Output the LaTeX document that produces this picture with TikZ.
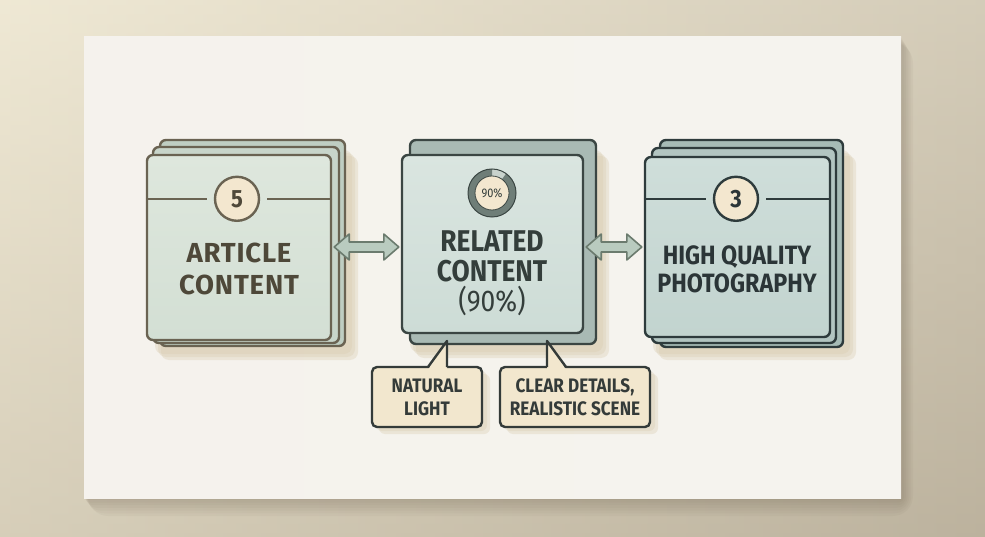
\documentclass[tikz,border=0pt]{standalone}
\usepackage{fontspec}
\setmainfont{Fira Sans}
\newfontfamily\condA[LetterSpace=3]{Fira Sans}
\newfontfamily\condB[FakeStretch=0.88]{Fira Sans}
\usetikzlibrary{calc}
\definecolor{wallTop}{HTML}{E9E2CF}
\definecolor{wallBot}{HTML}{B3A893}
\definecolor{wallLight}{HTML}{F4EED9}
\definecolor{wallDark}{HTML}{C4BBA7}
\definecolor{cardC}{HTML}{F5F3EE}
\definecolor{shadowC}{HTML}{6E6250}
\definecolor{boxShadow}{HTML}{D9CCB0}
\definecolor{bOneLine}{HTML}{6A6352}
\definecolor{bOneFace}{HTML}{DEE7DD}
\definecolor{bOneFaceB}{HTML}{D3DFD4}
\definecolor{bOneSide}{HTML}{BFCEC2}
\definecolor{bOneText}{HTML}{4E4839}
\definecolor{bTwoLine}{HTML}{3B4643}
\definecolor{bTwoFace}{HTML}{DAE5E0}
\definecolor{bTwoFaceB}{HTML}{CDDCD6}
\definecolor{bTwoSide}{HTML}{A9BAB4}
\definecolor{bTwoText}{HTML}{343E3B}
\definecolor{bThreeLine}{HTML}{2E3B3C}
\definecolor{bThreeFace}{HTML}{CFDEDA}
\definecolor{bThreeFaceB}{HTML}{C2D4CF}
\definecolor{bThreeSide}{HTML}{A6BBB6}
\definecolor{bThreeText}{HTML}{2B3537}
\definecolor{creamC}{HTML}{F3E7CF}
\definecolor{calloutC}{HTML}{F2E7CE}
\definecolor{ringC}{HTML}{6F7E78}
\definecolor{ringGap}{HTML}{C9D3CD}
\definecolor{arrowFill}{HTML}{B9CBBF}
\definecolor{arrowLine}{HTML}{6B7B6E}
\definecolor{calloutLine}{HTML}{343B39}
\tikzset{
  lw/.style={line width=2.4pt},
  layerbox/.style={lw, rounded corners=6pt},
  facebox/.style={lw, rounded corners=6pt, inner sep=0pt},
  numcirc/.style={circle, lw, fill=creamC, minimum size=44pt, inner sep=0pt, font=\condB\bfseries\fontsize{25}{25}\selectfont},
  titletext/.style={align=center, font=\condA\bfseries\fontsize{27.5}{32}\selectfont},
  callout/.style={lw, draw=calloutLine, fill=calloutC, rounded corners=5pt, align=center, inner sep=0pt,
     font=\condB\bfseries\fontsize{19.5}{23}\selectfont, text=calloutLine},
  arrowst/.style={line width=1.6pt, draw=arrowLine, fill=arrowFill, line join=round},
  softshadow/.style={fill=boxShadow, opacity=0.35}
}
\begin{document}
\begin{tikzpicture}[x=1pt,y=-1pt]
\useasboundingbox (0,0) rectangle (985,537);
% wall
\shade[top color=wallTop, bottom color=wallBot] (0,0) rectangle (985,537);
\shade[left color=wallLight, right color=wallDark, opacity=0.55] (0,0) rectangle (985,537);
% card shadow
\foreach \s in {2,5,8,11,14,17,20}
  \fill[shadowC, opacity=0.05, rounded corners=\s pt] (84+\s*0.2,37+\s*0.3) rectangle (901+\s*0.6,498+\s*0.9);
% card
\shade[left color=cardC!96!wallTop, right color=cardC] (84,37) rectangle (901,498);

% ---------- box shadows ----------
\foreach \s in {0,3,6}{
  \fill[softshadow, rounded corners=8pt] (155+\s,150+\s) rectangle (352+\s,354+\s);
  \fill[softshadow, rounded corners=8pt] (410+\s,150+\s) rectangle (603+\s,352+\s);
  \fill[softshadow, rounded corners=8pt] (653+\s,150+\s) rectangle (850+\s,354+\s);
}

% ---------- box 1 : article content ----------
\draw[layerbox, draw=bOneLine, fill=bOneSide] (160,140) rectangle (345,346);
\draw[layerbox, draw=bOneLine, fill=bOneSide!70!bOneFace] (153,147) rectangle (339,343);
\node[facebox, draw=bOneLine, top color=bOneFace, bottom color=bOneFaceB, minimum width=184pt, minimum height=185pt] (art) at (239,247.5) {};
\node[numcirc, draw=bOneLine, text=bOneText] (n5) at ($(art.north)+(-2,45)$) {5};
\draw[lw, draw=bOneLine, shorten >=7pt] (art.west |- n5) -- (n5.west);
\draw[lw, draw=bOneLine, shorten >=7pt] (art.east |- n5) -- (n5.east);
\node[titletext, text=bOneText] (artT) at (239,269) {ARTICLE\\CONTENT};

% ---------- box 2 : related content ----------
\draw[layerbox, draw=bTwoLine, fill=bTwoSide] (410,140) rectangle (596,344);
\node[facebox, draw=bTwoLine, top color=bTwoFace, bottom color=bTwoFaceB, minimum width=181pt, minimum height=178pt] (rel) at (492.5,244) {};
% donut
\begin{scope}[shift={(492,193)}, yscale=-1]
  \fill[ringGap] (0,0) circle[radius=24];
  \fill[ringC] (90:24) arc[start angle=90, end angle=414, radius=24] -- (54:17) arc[start angle=54, end angle=-270, radius=17] -- cycle;
  \draw[line width=1pt, draw=bTwoLine] (0,0) circle[radius=24];
\end{scope}
\node[circle, fill=creamC, draw=bTwoLine, line width=0.8pt, minimum size=34pt, inner sep=0pt, font=\condB\fontsize{12.5}{12.5}\selectfont, text=bTwoText] (pct) at (492,193) {90\%};
\node[align=center, text=bTwoText, font=\condB\bfseries\fontsize{30}{30}\selectfont] (relT) at (492,256) {RELATED\\CONTENT};
\node[text=bTwoText, font=\condB\fontsize{30}{30}\selectfont] (relP) at (492,301) {(90\%)};

% ---------- box 3 : high quality photography ----------
\draw[layerbox, draw=bThreeLine, fill=bThreeSide] (660,140) rectangle (843,347);
\draw[layerbox, draw=bThreeLine, fill=bThreeSide!70!bThreeFace] (652,148) rectangle (836,343);
\node[facebox, draw=bThreeLine, top color=bThreeFace, bottom color=bThreeFaceB, minimum width=185pt, minimum height=180pt] (pho) at (737.5,247) {};
\node[numcirc, draw=bThreeLine, text=bThreeText] (n3) at ($(pho.north)+(-1.5,43)$) {3};
\draw[lw, draw=bThreeLine, shorten >=7pt] (pho.west |- n3) -- (n3.west);
\draw[lw, draw=bThreeLine, shorten >=7pt] (pho.east |- n3) -- (n3.east);
\node[align=center, text=bThreeText, font=\condB\bfseries\fontsize{26.5}{28}\selectfont] (phoT) at (737,269) {HIGH QUALITY\\PHOTOGRAPHY};

% ---------- double arrows ----------
\coordinate (aL1) at ($(art.east)+(2,-0.5)$);
\coordinate (aR1) at ($(rel.west)+(-2,3)$);
\coordinate (aL2) at ($(rel.east)+(2,3)$);
\coordinate (aR2) at ($(pho.west)+(-2,0)$);
\foreach \a/\b in {aL1/aR1, aL2/aR2}{
  \draw[arrowst] let \p1=(\a), \p2=(\b) in
    (\x1,\y1) -- (\x1+15pt,\y1+13pt) -- (\x1+15pt,\y1+5pt) -- (\x2-15pt,\y1+5pt) -- (\x2-15pt,\y1+13pt)
    -- (\x2,\y1) -- (\x2-15pt,\y1-13pt) -- (\x2-15pt,\y1-5pt) -- (\x1+15pt,\y1-5pt) -- (\x1+15pt,\y1-13pt) -- cycle;
}

% ---------- callouts ----------
\foreach \s in {0,3}{
  \fill[softshadow, rounded corners=6pt] (376+\s,371+\s) rectangle (487+\s,431+\s);
  \fill[softshadow, rounded corners=6pt] (504+\s,371+\s) rectangle (655+\s,431+\s);
}
\node[callout, minimum width=110pt, minimum height=60pt] (nl) at (427,397) {NATURAL\\LIGHT};
\node[callout, minimum width=150pt, minimum height=60pt] (cd) at (575,397) {CLEAR DETAILS,\\REALISTIC SCENE};
\coordinate (t1) at (447,341);
\coordinate (t2) at (547,341);
\fill[calloutC] (428,369.5) -- (t1) -- (447,369.5) -- cycle;
\draw[lw, draw=calloutLine, line join=round] (428,367) -- (t1) -- (447,367);
\fill[calloutC] (547,369.5) -- (t2) -- (566,369.5) -- cycle;
\draw[lw, draw=calloutLine, line join=round] (547,367) -- (t2) -- (566,367);
\end{tikzpicture}
\end{document}
